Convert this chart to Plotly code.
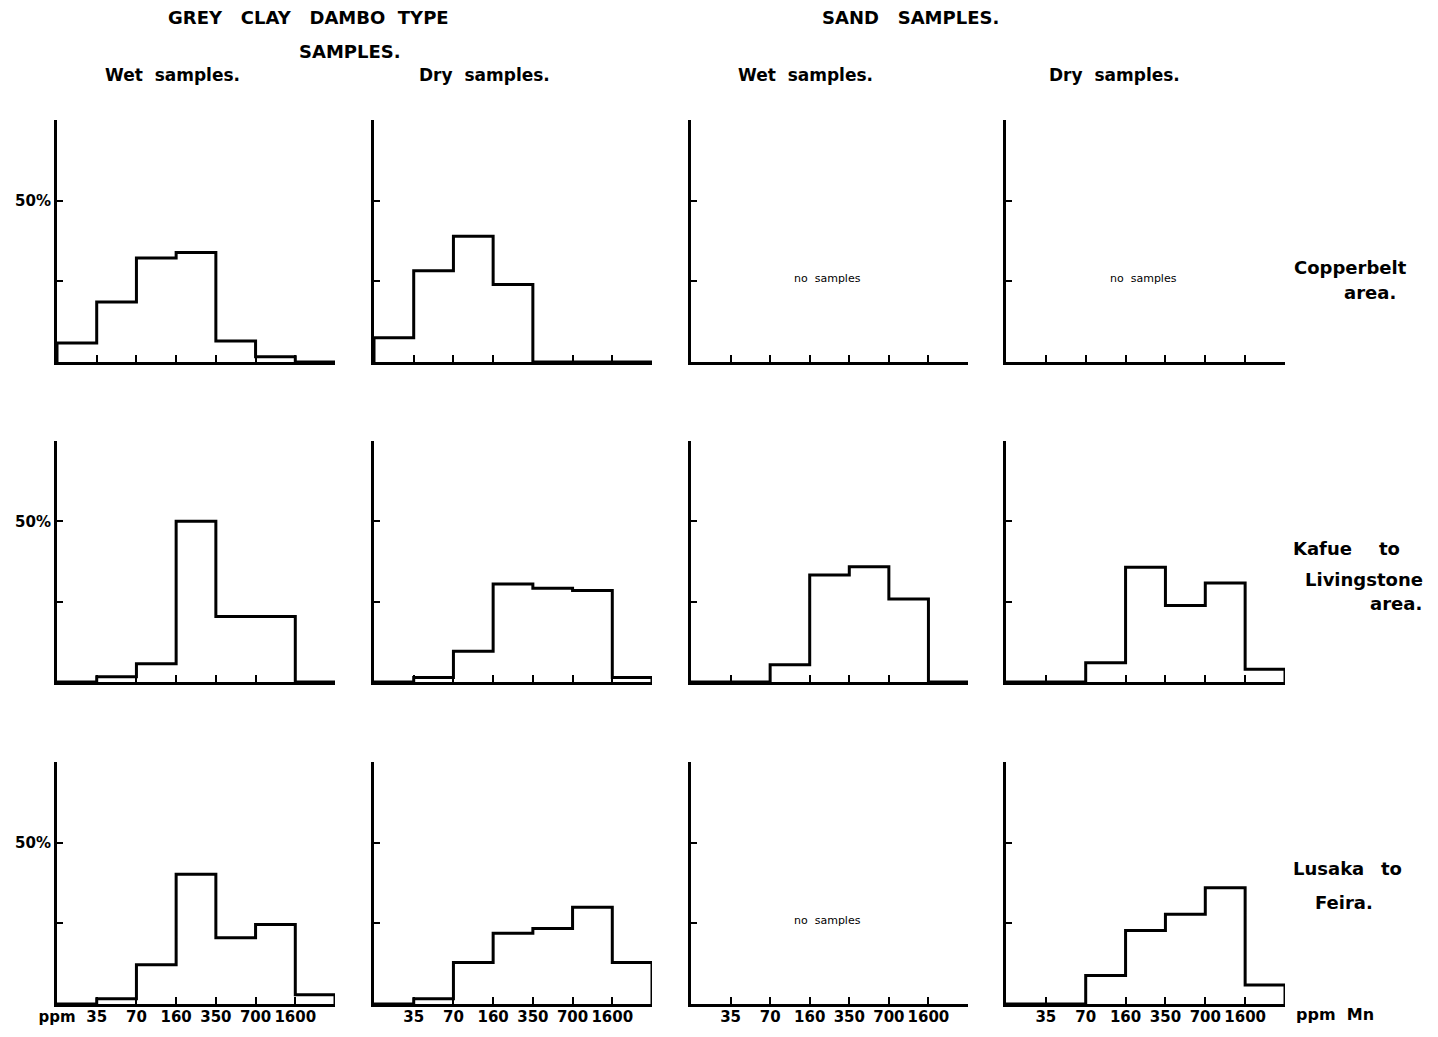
import plotly.graph_objects as go

# ---------------- data (percent of samples per Mn class) ----------------
bin_labels = ["35", "70", "160", "350", "700", "1600"]
n_bins = 7

clay_wet_copperbelt = [5.9, 18.6, 32.2, 33.9, 6.5, 1.6, 0]
clay_dry_copperbelt = [7.5, 28.3, 39.0, 24.0, 0, 0, 0]
sand_wet_copperbelt = None
sand_dry_copperbelt = None

clay_wet_kafue = [0, 1.6, 5.7, 50.0, 20.4, 20.4, 0]
clay_dry_kafue = [0, 1.4, 9.6, 30.5, 29.2, 28.5, 1.4]
sand_wet_kafue = [0, 0, 5.4, 33.3, 35.9, 25.8, 0]
sand_dry_kafue = [0, 0, 6.0, 35.7, 23.8, 30.8, 4.0]

clay_wet_lusaka = [0, 1.6, 12.2, 40.2, 20.5, 24.6, 2.9]
clay_dry_lusaka = [0, 1.6, 12.9, 21.9, 23.4, 30.0, 12.9]
sand_wet_lusaka = None
sand_dry_lusaka = [0, 0, 8.8, 22.8, 27.8, 36.0, 5.9]

panels = [
    [clay_wet_copperbelt, clay_dry_copperbelt, sand_wet_copperbelt, sand_dry_copperbelt],
    [clay_wet_kafue, clay_dry_kafue, sand_wet_kafue, sand_dry_kafue],
    [clay_wet_lusaka, clay_dry_lusaka, sand_wet_lusaka, sand_dry_lusaka],
]

# ---------------- layout geometry (pixels in the page) ----------------
OFF = 8           # default body margin of the html page
W, H = 1422, 1021
col_px = [(57, 335), (374, 652), (691, 968), (1006, 1285)]
row_px = [(120, 362), (441, 682), (762, 1004)]

def fx(px):
    return (px - OFF) / W

def fy(py):
    return 1 - (py - OFF) / H

FONT = "DejaVu Sans"
fig = go.Figure()
annotations = []

idx = 0
for r in range(3):
    for c in range(4):
        idx += 1
        xa = "x" if idx == 1 else f"x{idx}"
        ya = "y" if idx == 1 else f"y{idx}"
        xkey = "xaxis" if idx == 1 else f"xaxis{idx}"
        ykey = "yaxis" if idx == 1 else f"yaxis{idx}"
        vals = panels[r][c]
        if vals is not None:
            edges = list(range(n_bins + 1))
            xs = [edges[0]] + edges
            ys = [0] + list(vals) + [0]
            fig.add_trace(go.Scatter(
                x=xs, y=ys, mode="lines", line=dict(shape="hv", color="black", width=3),
                xaxis=xa, yaxis=ya, cliponaxis=False, showlegend=False, hoverinfo="skip"))
        else:
            annotations.append(dict(
                text="no&nbsp; samples", xref=xa, yref=ya, x=3.45, y=26, showarrow=False,
                font=dict(family=FONT, size=11, color="black")))
        bottom = (r == 2)
        if bottom:
            tv = list(range(1, n_bins + 1))
            tt = bin_labels + [""]
            if c == 0:
                tv = [0] + tv
                tt = ["ppm"] + tt
        else:
            tv = list(range(1, n_bins + 1))
            tt = [""] * len(tv)
        fig.layout[xkey] = dict(
            domain=[fx(col_px[c][0]), fx(col_px[c][1])], anchor=ya, range=[0, n_bins],
            showline=True, linewidth=3, linecolor="black", ticks="inside", ticklen=7,
            tickwidth=2, tickcolor="black", tickvals=tv, ticktext=tt, showgrid=False,
            zeroline=False, fixedrange=True, automargin=False, ticklabelstandoff=-3,
            tickfont=dict(family=FONT, size=15, color="black", weight="bold"))
        fig.layout[ykey] = dict(
            domain=[fy(row_px[r][1]), fy(row_px[r][0])], anchor=xa, range=[0, 75],
            showline=True, linewidth=3, linecolor="black", ticks="inside", ticklen=6,
            tickwidth=2, tickcolor="black", tickvals=[25, 50, 75],
            ticktext=["", "50%", ""] if c == 0 else ["", "", ""],
            showgrid=False, zeroline=False, fixedrange=True, automargin=False,
            tickfont=dict(family=FONT, size=15, color="black", weight="bold"))

def txt(s, px, py, size=16, anchor="center", weight="bold"):
    annotations.append(dict(
        text=s, xref="paper", yref="paper", x=fx(px), y=fy(py), xanchor=anchor,
        yanchor="middle", showarrow=False,
        font=dict(family=FONT, size=size, color="black", weight=weight)))

# headings
txt("GREY&nbsp;&nbsp; CLAY&nbsp;&nbsp; DAMBO&nbsp; TYPE", 308, 18, 18)
txt("SAMPLES.", 350, 51, 18)
txt("SAND&nbsp;&nbsp; SAMPLES.", 910, 18, 18)
txt("Wet&nbsp; samples.", 172, 75, 17)
txt("Dry&nbsp; samples.", 484, 75, 17)
txt("Wet&nbsp; samples.", 805, 75, 17)
txt("Dry&nbsp; samples.", 1114, 75, 17)

# row labels
txt("Copperbelt", 1292, 267, 18, "left")
txt("area.", 1398, 293, 18, "right")
txt("Kafue", 1291, 548, 18, "left")
txt("to", 1402, 548, 18, "right")
txt("Livingstone", 1425, 579, 18, "right")
txt("area.", 1424, 603, 18, "right")
txt("Lusaka", 1291, 868, 18, "left")
txt("to", 1404, 868, 18, "right")
txt("Feira.", 1344, 902, 18, "center")
txt("ppm&nbsp; Mn", 1335, 1014, 16, "center")

fig.update_layout(
    width=W, height=H, margin=dict(l=0, r=0, t=0, b=0),
    paper_bgcolor="white", plot_bgcolor="white", annotations=annotations,
    showlegend=False)

fig.write_html("out.html")
